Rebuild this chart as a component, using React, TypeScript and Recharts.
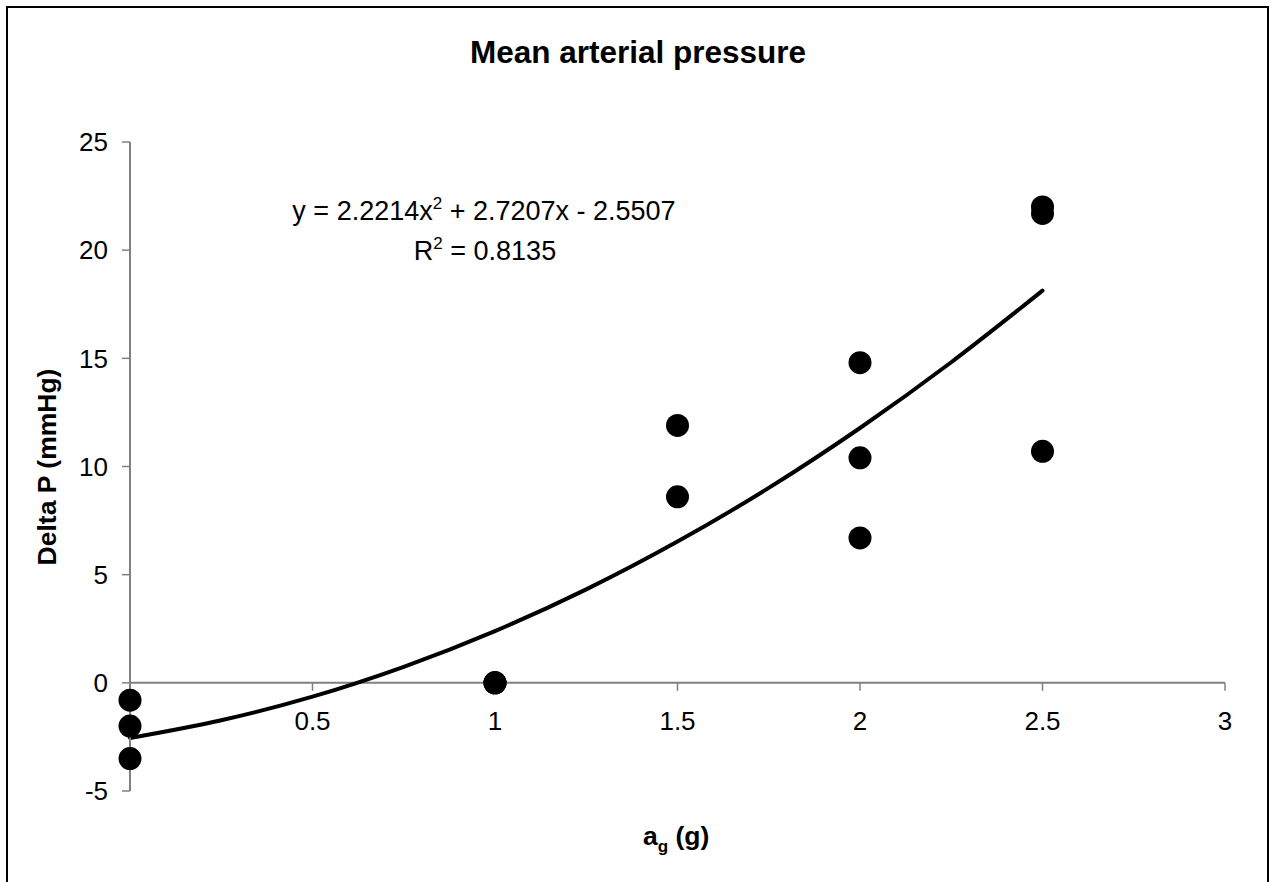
import {
  ComposedChart, Line, Scatter, XAxis, YAxis, ReferenceLine,
} from "recharts";

const font = "Arial, 'Liberation Sans', Helvetica, sans-serif";

// axis ticks
const xTicks = [0.5, 1, 1.5, 2, 2.5, 3];
const yTicks = [-5, 0, 5, 10, 15, 20, 25];

// measured points (a_g in g, delta P in mmHg)
const pointX = [0, 0, 0, 1, 1, 1, 1.5, 1.5, 2, 2, 2, 2.5, 2.5, 2.5];
const pointY = [-0.8, -2.0, -3.5, 0, 0, 0, 11.9, 8.6, 14.8, 10.4, 6.7, 22.0, 21.7, 10.7];

// polynomial trend line
const trendX = [0, 0.25, 0.5, 0.75, 1, 1.25, 1.5, 1.75, 2, 2.25, 2.5];
const trendY = [-2.55, -1.73, -0.64, 0.74, 2.39, 4.32, 6.53, 9.01, 11.78, 14.82, 18.13];

const points = pointX.map((x, i) => ({ x, y: pointY[i] }));
const trend = trendX.map((x, i) => ({ x, y: trendY[i] }));

const axisGray = "#808080";

const Dot = (p: any) => <circle cx={p.cx} cy={p.cy} r={11.5} fill="#000" />;

const App = () => {
  return (
    <div style={{ position: "absolute", left: 0, top: 0, width: 1273, height: 882, overflow: "hidden", background: "#fff" }}>
      <div style={{ position: "absolute", left: 6, top: 6, width: 1263, height: 900, border: "2px solid #000", boxSizing: "border-box" }} />
      <div style={{ position: "absolute", left: 0, top: 0 }}>
        <ComposedChart width={1273} height={882} margin={{ top: 142, right: 48, bottom: 91, left: 70 }}>
          <XAxis type="number" dataKey="x" domain={[0, 3]} hide />
          <YAxis
            type="number"
            domain={[-5, 25]}
            ticks={yTicks}
            interval={0}
            width={60}
            tickSize={8}
            tickMargin={14}
            axisLine={{ stroke: axisGray, strokeWidth: 2 }}
            tickLine={{ stroke: axisGray, strokeWidth: 1.5 }}
            tick={{ fill: "#000", fontSize: 26, fontFamily: font }}
          />
          <ReferenceLine y={0} stroke={axisGray} strokeWidth={2} />
          {xTicks.map(t => (
            <ReferenceLine
              key={t}
              segment={[{ x: t, y: 0 }, { x: t, y: -0.37 }]}
              stroke={axisGray}
              strokeWidth={1.5}
              label={{ value: String(t), position: "bottom", offset: 21, fill: "#000", fontSize: 26, fontFamily: font }}
            />
          ))}
          <Line
            data={trend}
            dataKey="y"
            type="monotone"
            stroke="#000"
            strokeWidth={4}
            strokeLinecap="round"
            dot={false}
            activeDot={false}
            isAnimationActive={false}
          />
          <Scatter data={points} dataKey="y" shape={Dot} isAnimationActive={false} />
        </ComposedChart>
      </div>
      <svg width={1273} height={882} style={{ position: "absolute", left: 0, top: 0, pointerEvents: "none" }} fontFamily={font}>
        <text x={638} y={63} textAnchor="middle" fontSize={31.5} fontWeight="bold">
          Mean arterial pressure
        </text>
        <text x={484} y={220} textAnchor="middle" fontSize={27}>
          y = 2.2214x<tspan fontSize={17} dy={-11}>2</tspan><tspan dy={11}> + 2.7207x - 2.5507</tspan>
        </text>
        <text x={485} y={260} textAnchor="middle" fontSize={27}>
          R<tspan fontSize={17} dy={-11}>2</tspan><tspan dy={11}> = 0.8135</tspan>
        </text>
        <text transform="translate(56 467) rotate(-90)" textAnchor="middle" fontSize={26.5} fontWeight="bold">
          Delta P (mmHg)
        </text>
        <text x={643} y={845} fontSize={26.5} fontWeight="bold">
          a<tspan fontSize={17} dy={7}>g</tspan><tspan dy={-7}> (g)</tspan>
        </text>
      </svg>
    </div>
  );
};

export default App;
